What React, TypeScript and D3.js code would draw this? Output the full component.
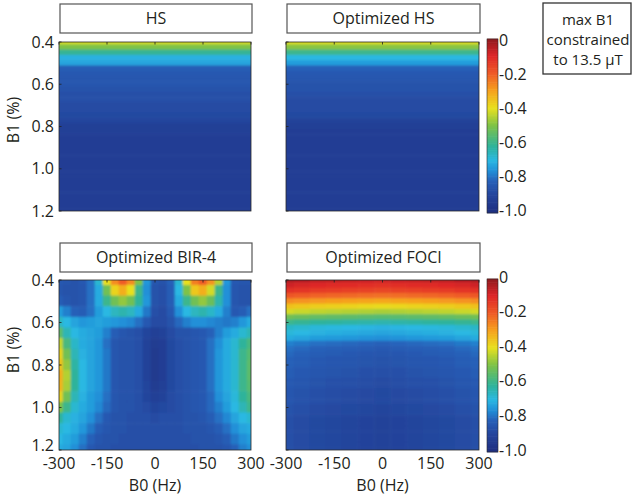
import React from 'react';
import * as d3 from 'd3';

// axis ticks
const b0Ticks = [-300, -150, 0, 150, 300];
const b1Ticks = [0.4, 0.6, 0.8, 1.0, 1.2];
const cbarTicks = [0, -0.2, -0.4, -0.6, -0.8, -1.0];

// grid positions (B1 rows every 0.025 for the 1D profiles, BIR-4 grid 25 Hz x 0.05)
const fineB1 = d3.range(0.4, 1.2001, 0.025);
const bir4B0 = d3.range(-300, 301, 25);
const bir4B1 = d3.range(0.4, 1.2001, 0.05);
const fociB0 = d3.range(-300, 301, 50);

// values (Mz, -1 .. 0)
const hsProfile = [
  -0.42, -0.5, -0.61, -0.71, -0.73, -0.83, -0.84, -0.85, -0.85, -0.86, -0.87, -0.87, -0.88, -0.88, -0.89, -0.9, -0.92,
  -0.92, -0.93, -0.93, -0.93, -0.93, -0.93, -0.93, -0.93, -0.93, -0.93, -0.93, -0.93, -0.93, -0.93, -0.93, -0.93,
];
const optHsProfile = [
  -0.41, -0.49, -0.6, -0.7, -0.74, -0.82, -0.84, -0.85, -0.86, -0.86, -0.87, -0.88, -0.88, -0.88, -0.89, -0.91, -0.92,
  -0.93, -0.93, -0.93, -0.93, -0.93, -0.93, -0.93, -0.93, -0.93, -0.93, -0.93, -0.93, -0.93, -0.93, -0.93, -0.93,
];
const fociProfile = [
  -0.06, -0.11, -0.15, -0.22, -0.3, -0.38, -0.45, -0.55, -0.63, -0.7, -0.72, -0.75, -0.81, -0.83, -0.84, -0.85, -0.85,
  -0.86, -0.86, -0.87, -0.87, -0.88, -0.88, -0.88, -0.89, -0.89, -0.9, -0.9, -0.9, -0.9, -0.9, -0.9, -0.9,
];
const fociColumnShift = [0.03, 0.02, 0.01, 0.005, 0, -0.005, -0.01, -0.005, 0, 0.005, 0.01, 0.02, 0.03];

const bir4Grid = [
  [-0.84, -0.85, -0.86, -0.84, -0.8, -0.68, -0.4, -0.27, -0.2, -0.27, -0.5, -0.75, -0.85, -0.86, -0.82, -0.68, -0.4, -0.25, -0.2, -0.28, -0.45, -0.75, -0.84, -0.85, -0.85],
  [-0.85, -0.86, -0.86, -0.85, -0.8, -0.72, -0.52, -0.38, -0.32, -0.4, -0.6, -0.76, -0.86, -0.87, -0.83, -0.7, -0.5, -0.36, -0.32, -0.42, -0.6, -0.76, -0.85, -0.86, -0.86],
  [-0.83, -0.85, -0.86, -0.85, -0.8, -0.72, -0.6, -0.52, -0.48, -0.52, -0.62, -0.75, -0.86, -0.87, -0.83, -0.72, -0.6, -0.52, -0.48, -0.53, -0.64, -0.76, -0.85, -0.86, -0.86],
  [-0.74, -0.78, -0.82, -0.83, -0.8, -0.74, -0.7, -0.66, -0.64, -0.66, -0.72, -0.79, -0.87, -0.88, -0.84, -0.76, -0.7, -0.66, -0.64, -0.67, -0.72, -0.78, -0.84, -0.83, -0.8],
  [-0.66, -0.7, -0.73, -0.75, -0.74, -0.73, -0.74, -0.75, -0.76, -0.77, -0.8, -0.84, -0.88, -0.88, -0.86, -0.81, -0.78, -0.76, -0.76, -0.77, -0.78, -0.79, -0.78, -0.75, -0.72],
  [-0.55, -0.65, -0.7, -0.72, -0.73, -0.74, -0.78, -0.83, -0.85, -0.86, -0.87, -0.9, -0.92, -0.91, -0.88, -0.86, -0.86, -0.85, -0.84, -0.82, -0.78, -0.74, -0.72, -0.68, -0.65],
  [-0.43, -0.58, -0.67, -0.72, -0.73, -0.75, -0.8, -0.85, -0.86, -0.86, -0.87, -0.91, -0.94, -0.93, -0.89, -0.87, -0.86, -0.85, -0.84, -0.8, -0.76, -0.72, -0.68, -0.62, -0.58],
  [-0.38, -0.52, -0.65, -0.71, -0.73, -0.75, -0.79, -0.85, -0.86, -0.86, -0.87, -0.91, -0.95, -0.93, -0.89, -0.87, -0.86, -0.85, -0.84, -0.8, -0.75, -0.72, -0.68, -0.6, -0.56],
  [-0.35, -0.48, -0.63, -0.7, -0.73, -0.75, -0.79, -0.85, -0.86, -0.86, -0.87, -0.91, -0.95, -0.93, -0.89, -0.87, -0.86, -0.85, -0.84, -0.8, -0.75, -0.72, -0.68, -0.6, -0.55],
  [-0.32, -0.45, -0.62, -0.7, -0.73, -0.75, -0.79, -0.85, -0.86, -0.86, -0.87, -0.91, -0.95, -0.93, -0.89, -0.87, -0.86, -0.85, -0.84, -0.8, -0.75, -0.72, -0.68, -0.6, -0.55],
  [-0.33, -0.46, -0.62, -0.7, -0.73, -0.75, -0.79, -0.85, -0.86, -0.86, -0.87, -0.9, -0.94, -0.92, -0.89, -0.87, -0.86, -0.85, -0.84, -0.8, -0.75, -0.72, -0.68, -0.6, -0.56],
  [-0.38, -0.52, -0.65, -0.71, -0.74, -0.76, -0.8, -0.85, -0.86, -0.86, -0.87, -0.9, -0.92, -0.91, -0.88, -0.87, -0.86, -0.85, -0.84, -0.81, -0.76, -0.73, -0.69, -0.62, -0.58],
  [-0.5, -0.6, -0.68, -0.72, -0.74, -0.77, -0.81, -0.85, -0.86, -0.86, -0.87, -0.88, -0.9, -0.89, -0.88, -0.87, -0.86, -0.85, -0.84, -0.81, -0.78, -0.74, -0.7, -0.65, -0.6],
  [-0.62, -0.68, -0.71, -0.73, -0.76, -0.8, -0.84, -0.86, -0.86, -0.87, -0.87, -0.87, -0.88, -0.87, -0.87, -0.87, -0.86, -0.86, -0.85, -0.83, -0.8, -0.77, -0.73, -0.7, -0.68],
  [-0.68, -0.7, -0.72, -0.75, -0.79, -0.83, -0.85, -0.86, -0.86, -0.87, -0.87, -0.87, -0.87, -0.87, -0.87, -0.87, -0.86, -0.86, -0.86, -0.85, -0.83, -0.8, -0.76, -0.73, -0.72],
  [-0.7, -0.72, -0.74, -0.78, -0.82, -0.85, -0.86, -0.86, -0.87, -0.87, -0.87, -0.87, -0.87, -0.87, -0.87, -0.87, -0.87, -0.86, -0.86, -0.86, -0.85, -0.83, -0.79, -0.76, -0.74],
  [-0.72, -0.73, -0.76, -0.8, -0.84, -0.86, -0.86, -0.87, -0.87, -0.87, -0.87, -0.87, -0.87, -0.87, -0.87, -0.87, -0.87, -0.87, -0.86, -0.86, -0.86, -0.85, -0.82, -0.78, -0.76],
];

// jet-like colour map, toned like the printed figure
const colorStops = [-1, -0.9, -0.82, -0.76, -0.7, -0.62, -0.5, -0.4, -0.3, -0.2, -0.1, 0];
const colorHex = ['#1e2f80', '#24449c', '#2760b8', '#2190d8', '#2ab8e2', '#2fb39b', '#7ec247', '#e8e01f', '#f6a11f', '#ef5b27', '#de2628', '#8e1b1e'];
const color = d3.scaleLinear().domain(colorStops).range(colorHex as any).interpolate(d3.interpolateRgb as any).clamp(true) as any;

const ink = '#231f20';
const font = "'Open Sans', 'DejaVu Sans', sans-serif";

const cols = [[59, 251], [286, 479]];
const rows = [[42, 211], [280, 450]];
const titleRows = [[4, 33], [243, 272]];

type Cell = { x0: number; x1: number; y0: number; y1: number; v: number };

// cell bounds half-way between grid centres, edges at the domain ends
const bounds = (centers: number[]) =>
  centers.map((c, i) => [
    i === 0 ? c : (centers[i - 1] + c) / 2,
    i === centers.length - 1 ? c : (c + centers[i + 1]) / 2,
  ]);

function buildCells(kind: string, profile?: number[]): Cell[] {
  const out: Cell[] = [];
  const rb = bounds(fineB1);
  if (kind === 'profile') {
    profile!.forEach((v, r) => out.push({ x0: -300, x1: 300, y0: rb[r][0], y1: rb[r][1], v }));
  } else if (kind === 'foci') {
    const cb = bounds(fociB0);
    fociProfile.forEach((v, r) =>
      fociColumnShift.forEach((s, c) => out.push({ x0: cb[c][0], x1: cb[c][1], y0: rb[r][0], y1: rb[r][1], v: v + s }))
    );
  } else {
    const cb = bounds(bir4B0);
    const rb2 = bounds(bir4B1);
    bir4Grid.forEach((row, r) =>
      row.forEach((v, c) => out.push({ x0: cb[c][0], x1: cb[c][1], y0: rb2[r][0], y1: rb2[r][1], v }))
    );
  }
  return out;
}

const panels = [
  { id: 'hs', title: 'HS', col: 0, row: 0, cells: buildCells('profile', hsProfile) },
  { id: 'ohs', title: 'Optimized HS', col: 1, row: 0, cells: buildCells('profile', optHsProfile) },
  { id: 'bir', title: 'Optimized BIR-4', col: 0, row: 1, cells: buildCells('bir') },
  { id: 'foci', title: 'Optimized FOCI', col: 1, row: 1, cells: buildCells('foci') },
];

function Panel({ p }: { p: any }) {
  const [xa, xb] = cols[p.col];
  const [ya, yb] = rows[p.row];
  const [ta, tb] = titleRows[p.row];
  const x = d3.scaleLinear().domain([-300, 300]).range([xa, xb]);
  const y = d3.scaleLinear().domain([0.4, 1.2]).range([ya, yb]);
  const pad = 8;
  const px = (v: number) => (v <= -300 ? xa - pad : v >= 300 ? xb + pad : x(v));
  const py = (v: number) => (v <= 0.4 + 1e-9 ? ya - pad : v >= 1.2 - 1e-9 ? yb + pad : y(v));
  return (
    <g>
      <rect x={xa + 1} y={ta} width={xb - xa} height={tb - ta} fill="#fff" stroke="#555" strokeWidth={1.2} />
      <text x={(xa + xb) / 2 + 1} y={(ta + tb) / 2 + 5.5} textAnchor="middle" fontSize={16} fill={ink}>{p.title}</text>
      <clipPath id={`clip-${p.id}`}>
        <rect x={xa} y={ya} width={xb - xa} height={yb - ya} />
      </clipPath>
      <g clipPath={`url(#clip-${p.id})`}>
        <g filter="url(#soft)">
          {p.cells.map((c: Cell, i: number) => (
            <rect key={i} x={px(c.x0) - 0.3} y={py(c.y0) - 0.3} width={px(c.x1) - px(c.x0) + 0.6} height={py(c.y1) - py(c.y0) + 0.6} fill={color(c.v)} />
          ))}
        </g>
      </g>
      <rect x={xa} y={ya} width={xb - xa} height={yb - ya} fill="none" stroke="#2a2a2a" strokeWidth={0.8} />
      {b0Ticks.map(t => (
        <line key={'tx' + t} x1={x(t)} x2={x(t)} y1={ya} y2={ya + 2.5} stroke="#222" strokeWidth={0.8} />
      ))}
      {b1Ticks.map(t => (
        <line key={'ty' + t} x1={xa} x2={xa + 2.5} y1={y(t)} y2={y(t)} stroke="#222" strokeWidth={0.8} />
      ))}
      {p.col === 0 &&
        b1Ticks.map(t => (
          <text key={'yl' + t} x={54} y={p.row === 1 && t === 1.2 ? y(t) - 5 : y(t)} dy="0.35em" textAnchor="end" fontSize={16} fill={ink}>{t.toFixed(1)}</text>
        ))}
      {p.col === 0 && (
        <text transform={`translate(19,${p.row === 0 ? 120 : 350}) rotate(-90)`} textAnchor="middle" fontSize={16} fill={ink}>B1 (%)</text>
      )}
      {p.row === 1 &&
        b0Ticks.map(t => (
          <text key={'xl' + t} x={x(t)} y={469} textAnchor="middle" fontSize={16} fill={ink}>{t}</text>
        ))}
      {p.row === 1 && (
        <text x={(xa + xb) / 2} y={491} textAnchor="middle" fontSize={16} fill={ink}>B0 (Hz)</text>
      )}
    </g>
  );
}

function ColorBar({ top, bottom, labTop, labBottom }: { top: number; bottom: number; labTop: number; labBottom: number }) {
  const bar = d3.scaleLinear().domain([0, -1]).range([top, bottom]);
  const lab = d3.scaleLinear().domain([0, -1]).range([labTop, labBottom]);
  const n = 100;
  const strips = d3.range(n).map(i => -(i + 0.5) / n);
  const h = (bottom - top) / n;
  return (
    <g>
      {strips.map((v, i) => (
        <rect key={i} x={487} y={bar(v) - h / 2 - 0.3} width={11} height={h + 0.6} fill={color(v)} />
      ))}
      <rect x={487} y={top} width={11} height={bottom - top} fill="none" stroke="#2a2a2a" strokeWidth={0.6} />
      {cbarTicks.map(t => (
        <text key={t} x={499} y={lab(t)} dy="0.35em" fontSize={16} fill={ink}>
          {t === 0 ? '0' : t.toFixed(1)}
        </text>
      ))}
    </g>
  );
}

export default function App() {
  return (
    <svg width={633} height={496} style={{ position: 'absolute', left: 0, top: 0, background: '#fff' }} fontFamily={font}>
      <defs>
        <filter id="soft" x="-5%" y="-5%" width="110%" height="110%">
          <feGaussianBlur stdDeviation={1.3} />
        </filter>
      </defs>
      {panels.map(p => (
        <Panel key={p.id} p={p} />
      ))}
      <ColorBar top={39} bottom={213} labTop={40} labBottom={210} />
      <ColorBar top={279} bottom={452} labTop={277} labBottom={450} />
      <rect x={543} y={3} width={88} height={71} fill="#fff" stroke="#333" strokeWidth={1.3} />
      <text x={588} y={25} textAnchor="middle" fontSize={15} fill={ink}>max B1</text>
      <text x={588} y={45} textAnchor="middle" fontSize={15} fill={ink}>constrained</text>
      <text x={588} y={65} textAnchor="middle" fontSize={15} fill={ink}>to 13.5 µT</text>
    </svg>
  );
}
